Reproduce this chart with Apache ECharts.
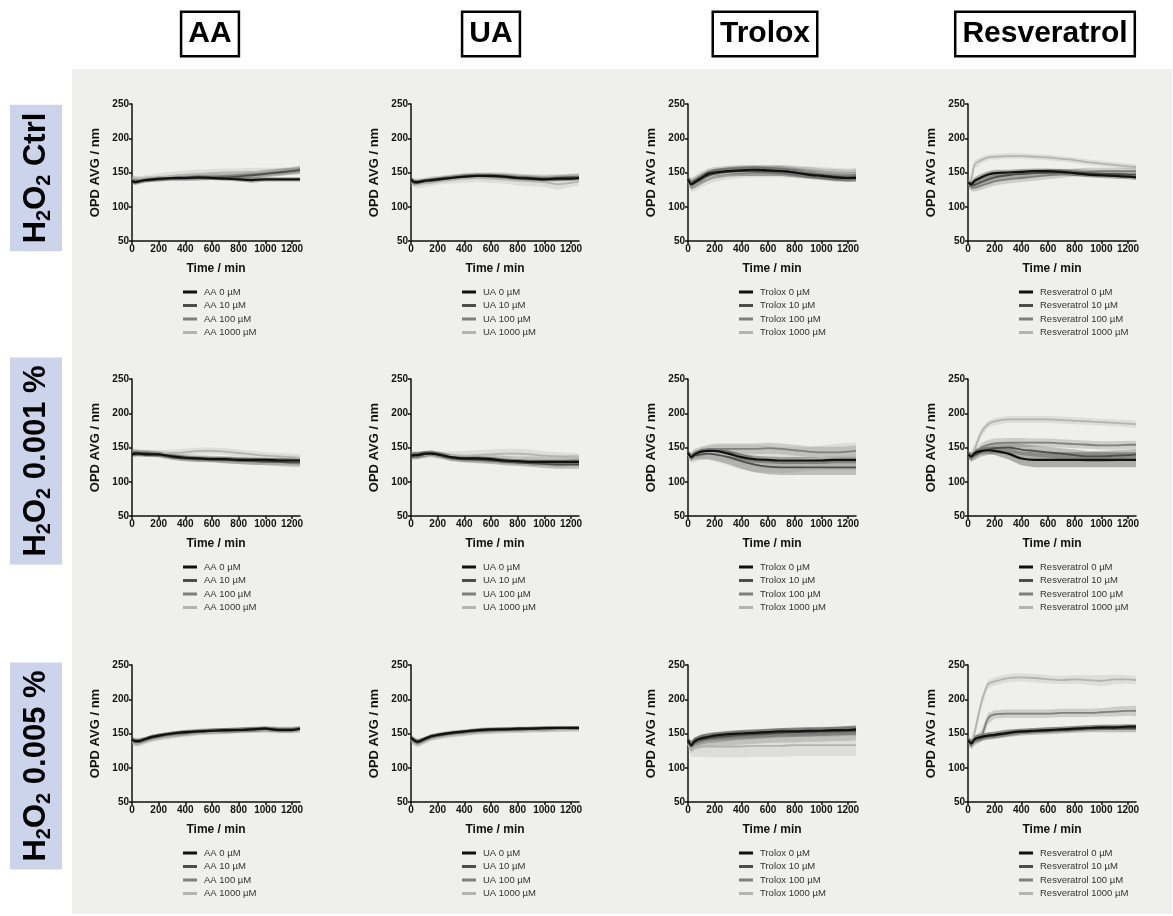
<!DOCTYPE html>
<html>
<head>
<meta charset="utf-8">
<script src="https://cdn.jsdelivr.net/npm/echarts@6/dist/echarts.min.js"></script>
<style>
  html, body { margin: 0; padding: 0; background: #fff; }
  #chart { width: 1173px; height: 916px; }
</style>
</head>
<body>
<div id="chart"></div>
<script>
// Sampling times (min) shared by every curve
const timeMin = [0, 25, 50, 100, 150, 200, 300, 400, 500, 600, 700, 800, 900, 1000, 1100, 1200, 1260];

const compounds = ['AA', 'UA', 'Trolox', 'Resveratrol'];
const doses = ['0 µM', '10 µM', '100 µM', '1000 µM'];
const xTicks = [0, 200, 400, 600, 800, 1000, 1200];
const yTicks = [50, 100, 150, 200, 250];

// ---- H2O2 Ctrl: mean OPD per dose (0, 10, 100, 1000 µM) and SD ----
const ctrlAA = [
  [138,136,137,139,140,141,142,142,143,142,141,140,139,140,140,140,140],
  [137,136,137,138,139,140,141,142,142,143,143,144,146,148,150,152,153],
  [140,139,139,140,141,141,142,143,144,144,145,146,147,149,151,153,155],
  [141,140,140,141,142,143,145,147,148,149,150,150,151,151,152,152,152]];
const ctrlAA_sd = [
  [4,4,3,3,3,3,3,3,3,3,3,3,4,3,3,3,3],
  [4,4,4,3,3,3,3,4,4,4,4,4,5,5,5,5,5],
  [5,5,4,4,4,4,4,5,5,5,5,5,5,5,5,5,5],
  [5,5,5,5,5,6,6,6,6,6,6,6,6,6,5,5,5]];
const ctrlUA = [
  [140,136,136,138,139,140,142,144,145,145,144,142,141,140,141,141,142],
  [138,135,135,137,138,139,142,144,145,145,144,143,142,141,142,143,143],
  [139,136,136,138,140,141,143,145,146,146,145,143,142,142,142,143,144],
  [137,134,133,134,135,137,139,141,142,141,140,138,137,136,133,135,137]];
const ctrlUA_sd = [
  [4,3,3,3,3,3,3,3,3,3,3,3,3,3,3,3,3],
  [4,4,4,3,3,4,4,4,4,4,4,4,4,4,4,4,4],
  [5,5,5,4,4,4,4,4,4,4,5,5,5,5,5,5,5],
  [6,6,6,5,5,5,5,6,6,6,6,7,7,7,8,6,6]];
const ctrlTrolox = [
  [140,133,136,142,148,150,152,153,154,153,152,150,147,145,143,142,142],
  [138,132,134,140,145,148,151,152,152,152,152,150,148,146,144,143,144],
  [139,134,136,142,147,150,152,153,153,153,153,151,150,148,147,146,147],
  [137,131,133,139,143,146,149,151,152,152,152,151,150,149,148,147,148]];
const ctrlTrolox_sd = [
  [4,5,5,5,5,5,5,5,5,5,5,5,5,5,5,5,5],
  [6,7,7,7,7,7,7,7,7,7,7,7,7,7,7,7,7],
  [6,8,9,9,9,8,8,8,8,8,8,8,8,8,8,8,8],
  [7,9,10,10,10,10,9,9,9,9,9,9,9,9,9,9,9]];
const ctrlResv = [
  [136,133,138,143,147,149,150,151,152,152,151,149,147,146,145,144,143],
  [135,131,132,136,140,143,146,148,149,150,150,150,149,148,148,147,147],
  [134,129,128,131,134,137,140,142,144,146,148,150,151,152,152,152,152],
  [136,140,162,168,172,173,174,174,173,172,170,168,165,163,161,159,158]];
const ctrlResv_sd = [
  [4,5,5,5,5,5,4,4,4,4,4,4,4,4,4,4,4],
  [5,6,6,6,6,6,5,5,5,5,5,5,5,5,5,5,5],
  [5,6,6,6,6,6,6,6,6,6,6,6,6,5,5,5,5],
  [5,6,6,5,4,4,4,4,4,4,4,4,4,4,4,4,4]];

// ---- H2O2 0.001 % ----
const lowAA = [
  [140,141,141,140,140,140,137,135,134,133,133,132,132,132,131,131,131],
  [142,142,142,142,141,140,136,134,133,133,132,131,130,129,129,128,128],
  [143,143,142,141,141,140,137,135,134,133,132,131,130,130,130,130,129],
  [141,141,141,141,141,141,142,143,145,145,144,142,140,138,137,136,135]];
const lowAA_sd = [
  [4,4,3,3,3,3,3,3,3,3,3,3,3,3,3,3,3],
  [4,4,4,4,4,4,4,4,4,4,5,5,5,5,6,6,6],
  [5,5,5,5,5,5,5,5,5,5,5,5,5,5,5,5,5],
  [5,5,5,5,5,5,5,5,5,5,5,5,5,5,5,5,5]];
const lowUA = [
  [138,139,139,141,141,140,136,134,134,133,131,130,129,129,129,129,129],
  [137,138,138,140,142,140,135,133,132,131,129,128,127,126,125,125,125],
  [139,139,139,140,141,139,136,134,133,133,132,131,130,130,130,131,131],
  [138,138,138,139,140,139,138,138,139,140,141,141,140,138,137,136,135]];
const lowUA_sd = [
  [4,4,4,4,3,3,3,3,3,3,3,3,3,3,3,3,3],
  [5,5,5,4,4,4,5,5,5,5,5,5,5,6,6,6,6],
  [5,5,5,5,5,5,5,5,5,6,6,6,7,7,8,8,8],
  [5,5,5,5,5,5,6,7,7,7,7,7,7,6,6,6,6]];
const lowTrolox = [
  [142,136,140,144,145,145,141,136,133,132,131,131,131,131,132,132,132],
  [141,135,138,140,141,140,136,130,125,122,121,121,121,121,121,121,121],
  [140,137,141,144,147,148,148,148,148,149,148,146,144,143,143,144,145],
  [139,134,137,141,142,142,139,136,134,133,132,132,133,135,136,137,137]];
const lowTrolox_sd = [
  [4,4,4,4,4,4,5,5,5,5,5,5,5,5,5,5,5],
  [5,5,6,7,8,9,10,11,11,11,11,11,11,11,11,11,11],
  [5,6,7,7,7,8,8,8,8,8,8,8,8,8,8,8,8],
  [6,7,8,9,10,12,15,18,20,20,19,18,17,18,19,20,20]];
const lowResv = [
  [140,137,142,145,146,145,141,134,132,132,132,132,132,132,132,132,132],
  [139,136,139,144,147,149,150,147,145,143,141,139,137,137,138,139,140],
  [140,135,139,150,154,156,157,157,157,157,156,155,154,153,153,154,154],
  [140,138,148,172,184,188,191,191,191,191,190,189,188,187,186,185,184]];
const lowResv_sd = [
  [4,5,5,5,5,6,8,10,11,11,11,11,11,11,11,11,11],
  [5,6,7,7,8,8,8,8,8,8,8,8,8,8,8,8,8],
  [5,6,7,7,7,7,7,7,6,6,6,6,6,6,6,6,6],
  [5,6,7,6,5,5,5,5,5,5,5,5,5,5,5,5,5]];

// ---- H2O2 0.005 % ----
const highAA = [
  [141,139,139,142,145,147,150,152,153,154,155,155,156,157,155,155,157],
  [140,138,138,141,144,146,149,151,153,154,154,155,156,157,156,156,157],
  [139,137,137,140,143,145,148,150,152,153,154,155,155,156,155,155,156],
  [138,136,136,139,142,144,147,150,151,152,153,154,155,155,154,154,155]];
const highAA_sd = [
  [4,4,4,3,3,3,3,3,3,3,3,3,3,3,3,3,3],
  [4,4,4,4,4,4,4,4,4,4,4,4,4,4,4,4,4],
  [5,5,5,4,4,4,4,4,4,4,4,4,4,4,4,4,4],
  [5,5,5,5,5,5,5,5,4,4,4,4,4,4,4,4,4]];
const highUA = [
  [144,140,138,142,146,148,151,153,155,156,156,157,157,158,158,158,158],
  [143,139,137,141,145,147,150,152,154,155,156,156,157,157,158,158,158],
  [142,138,136,140,144,146,149,151,153,154,155,155,156,156,157,157,157],
  [141,137,135,139,143,145,148,150,152,153,154,155,155,156,156,157,157]];
const highUA_sd = [
  [4,4,4,3,3,3,3,3,3,3,3,3,3,3,3,3,3],
  [4,4,4,4,4,3,3,3,3,3,3,3,3,3,3,3,3],
  [5,5,5,4,4,4,4,4,4,4,4,4,4,4,4,4,4],
  [5,5,5,5,4,4,4,4,4,4,4,4,4,4,4,4,4]];
const highTrolox = [
  [140,133,139,143,145,147,149,150,151,152,153,153,154,154,155,155,156],
  [138,132,137,141,143,144,146,148,149,150,151,152,152,153,153,154,154],
  [137,131,135,139,141,142,143,144,145,146,147,147,148,148,149,149,150],
  [135,128,130,131,131,131,131,131,132,132,132,133,133,133,133,133,133]];
const highTrolox_sd = [
  [5,5,5,5,5,5,5,5,5,5,5,5,5,5,5,6,6],
  [6,7,7,7,7,7,7,7,7,7,7,7,7,7,7,7,7],
  [8,9,9,10,10,10,10,10,10,10,10,10,10,10,10,10,10],
  [10,12,14,15,16,16,16,16,16,16,16,16,16,16,16,16,16]];
const highResv = [
  [140,136,142,145,147,148,151,153,154,155,156,157,158,159,159,160,160],
  [139,135,141,144,146,147,150,152,153,154,155,156,157,157,157,157,157],
  [140,134,139,146,172,178,179,179,179,179,180,180,180,181,182,183,183],
  [140,137,152,195,222,226,231,232,231,229,228,229,228,227,229,229,228]];
const highResv_sd = [
  [4,5,5,5,5,5,5,4,4,4,4,4,4,4,4,4,4],
  [5,6,6,5,5,5,5,5,5,5,5,5,5,5,5,5,5],
  [6,7,7,8,8,6,6,6,6,6,6,6,6,6,7,7,8],
  [6,7,8,8,6,6,6,6,6,6,6,6,7,8,7,6,6]];

// Rows of panels (treatment) x columns (compound)
const panelMeans = [
  [ctrlAA, ctrlUA, ctrlTrolox, ctrlResv],
  [lowAA, lowUA, lowTrolox, lowResv],
  [highAA, highUA, highTrolox, highResv]];
const panelSDs = [
  [ctrlAA_sd, ctrlUA_sd, ctrlTrolox_sd, ctrlResv_sd],
  [lowAA_sd, lowUA_sd, lowTrolox_sd, lowResv_sd],
  [highAA_sd, highUA_sd, highTrolox_sd, highResv_sd]];
const rowTitles = [' Ctrl', ' 0.001 %', ' 0.005 %'];

// ---- layout & styling ----
const FONT = '"Liberation Sans", Arial, Helvetica, sans-serif';
const doseColors = ['#111111', '#4d4d4d', '#7f7f7f', '#b3b3b3'];
const gridLeft = [132, 411, 688, 968];
const gridTop = [104, 379, 665];
const gridW = 168, gridH = 137;
const headerCenterX = [210, 491, 765, 1045];
const rowLabelCenterY = [178, 461, 766];

// Shaded mean ± SD band, drawn as one polygon through the axis scales
function bandRenderer(lo, hi, color) {
  return function (params, api) {
    if (params.dataIndex !== 0) return null;
    const upper = timeMin.map((t, i) => api.coord([t, hi[i]]));
    const lower = timeMin.map((t, i) => api.coord([t, lo[i]])).reverse();
    return {
      type: 'polygon',
      shape: { points: upper.concat(lower) },
      style: { fill: color, opacity: 0.3 }
    };
  };
}

const grids = [], xAxes = [], yAxes = [], series = [], legends = [];

panelMeans.forEach((row, r) => {
  row.forEach((means, c) => {
    const g = r * 4 + c;
    grids.push({ left: gridLeft[c], top: gridTop[r], width: gridW, height: gridH });

    xAxes.push({
      type: 'value', gridIndex: g, min: 0, max: 1260,
      name: 'Time / min', nameLocation: 'middle', nameGap: 22,
      nameTextStyle: { fontFamily: FONT, fontSize: 12, fontWeight: 'bold', color: '#111' },
      axisLine: { show: true, lineStyle: { color: '#111', width: 1.5 } },
      axisTick: { show: true, length: 3, customValues: xTicks, lineStyle: { color: '#111', width: 1.5 } },
      axisLabel: { customValues: xTicks, formatter: v => String(v), fontFamily: FONT, fontSize: 10, fontWeight: 'bold', color: '#111', margin: 3 },
      splitLine: { show: false }
    });
    yAxes.push({
      type: 'value', gridIndex: g, min: 50, max: 250, interval: 50,
      name: 'OPD AVG / nm', nameLocation: 'middle', nameGap: 30,
      nameTextStyle: { fontFamily: FONT, fontSize: 13, fontWeight: 'bold', color: '#111' },
      axisLine: { show: true, lineStyle: { color: '#111', width: 1.5 } },
      axisTick: { show: true, length: 3, lineStyle: { color: '#111', width: 1.5 } },
      axisLabel: { fontFamily: FONT, fontSize: 10, fontWeight: 'bold', color: '#111', margin: 3 },
      splitLine: { show: false }
    });

    const sds = panelSDs[r][c];
    const names = doses.map(d => compounds[c] + ' ' + d);

    for (let k = 3; k >= 0; k--) {
      const m = means[k], s = sds[k];
      const lo = m.map((v, i) => v - s[i]);
      const hi = m.map((v, i) => v + s[i]);
      series.push({
        type: 'custom', xAxisIndex: g, yAxisIndex: g, silent: true, z: 1,
        encode: { x: 0, y: [1, 2] },
        data: timeMin.map((t, i) => [t, lo[i], hi[i]]),
        renderItem: bandRenderer(lo, hi, doseColors[k])
      });
    }
    // Mean curves, darkest on top
    for (let k = 3; k >= 0; k--) {
      series.push({
        name: names[k], type: 'line', xAxisIndex: g, yAxisIndex: g,
        data: timeMin.map((t, i) => [t, means[k][i]]),
        symbol: 'none', smooth: 0.3, color: doseColors[k],
        lineStyle: { width: k === 0 ? 2.2 : 1.8, color: doseColors[k] }, z: 3
      });
    }

    legends.push({
      orient: 'vertical', left: gridLeft[c] + 51, top: gridTop[r] + 182.5,
      padding: 0, itemGap: 2.5, itemWidth: 14, itemHeight: 3, icon: 'rect',
      selectedMode: false, data: names,
      textStyle: { fontFamily: FONT, fontSize: 9.5, color: '#333', lineHeight: 11, padding: [0, 0, 0, 2] }
    });
  });
});

const graphics = [
  { type: 'rect', shape: { x: 72, y: 69, width: 1100, height: 845 }, style: { fill: '#efefed' }, z: -10, silent: true }
];
compounds.forEach((name, c) => {
  graphics.push({
    type: 'text', x: headerCenterX[c], y: 34, silent: true,
    style: {
      text: name, font: 'bold 30px ' + FONT, fill: '#000',
      align: 'center', verticalAlign: 'middle',
      backgroundColor: '#fff', borderColor: '#000', borderWidth: 2.5, padding: [7, 6, 5, 6]
    }
  });
});
rowTitles.forEach((tail, r) => {
  graphics.push({
    type: 'text', x: 36, y: rowLabelCenterY[r], rotation: Math.PI / 2, silent: true,
    style: {
      text: '{n|H}{s|2}{n|O}{s|2}{n|' + tail + '}',
      align: 'center', verticalAlign: 'middle',
      backgroundColor: '#ccd4ec', padding: [8, 8, 8, 8],
      rich: {
        n: { font: 'bold 31px ' + FONT, fill: '#000', lineHeight: 36 },
        s: { font: 'bold 20px ' + FONT, fill: '#000', lineHeight: 16, verticalAlign: 'bottom' }
      }
    }
  });
});

const chart = echarts.init(document.getElementById('chart'));
chart.setOption({
  backgroundColor: '#fff',
  animation: false,
  grid: grids,
  xAxis: xAxes,
  yAxis: yAxes,
  legend: legends,
  series: series,
  graphic: graphics
});
</script>
</body>
</html>
